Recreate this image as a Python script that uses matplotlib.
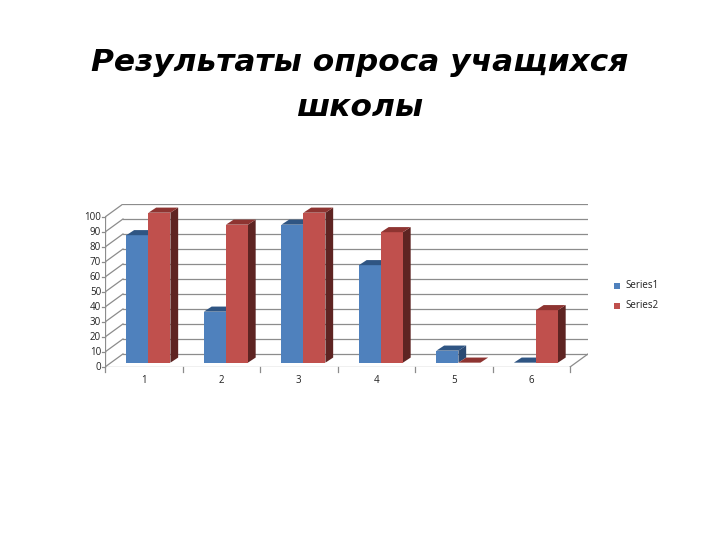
import matplotlib
matplotlib.use("Agg")
import matplotlib.pyplot as plt
from matplotlib.patches import Polygon

plt.rcParams['font.family'] = ['Open Sans', 'DejaVu Sans']

# data
categories = ['1', '2', '3', '4', '5', '6']
series1 = [85, 34, 92, 65, 8, 0]
series2 = [100, 92, 100, 87, 0, 35]
series_names = ['Series1', 'Series2']
yticks = list(range(0, 101, 10))
title_lines = ['Результаты опроса учащихся', 'школы']

front = ['#4F81BD', '#C0504D']
top = ['#2F5583', '#8E3431']
side = ['#2B4A73', '#5E2422']

# oblique "3d" geometry in data units
wall_dx, wall_dy = 0.232, 8.7      # back wall offset
bar_dx0, bar_dy0 = 0.06, 2.9       # bar front face offset
bar_dx, bar_dy = 0.10, 3.4         # bar depth
bar_w = 0.284
n = len(categories)

fig = plt.figure(figsize=(7.2, 5.4), dpi=100)
for j, line in enumerate(title_lines):
    fig.text(0.5, 1 - (71 + 45 * j) / 540, line, ha='center', va='baseline',
             fontsize=22.5, style='oblique', fontweight='bold', family='DejaVu Sans')

ax = fig.add_axes([105 / 720, 1 - 367 / 540, 483 / 720, 163 / 540])
ax.set_xlim(0.5, n + 0.5 + wall_dx)
ax.set_ylim(0, 100 + wall_dy)
ax.axis('off')

grid_c = '#8C8C8C'
x0, x1 = 0.5, n + 0.5
for v in yticks:
    ax.plot([x0 + wall_dx, x1 + wall_dx], [v + wall_dy, v + wall_dy], color=grid_c, lw=0.9, zorder=1)
    ax.plot([x0, x0 + wall_dx], [v, v + wall_dy], color=grid_c, lw=0.9, zorder=1)
    ax.plot([x0 - 0.04, x0], [v, v], color=grid_c, lw=0.9, clip_on=False)
    ax.text(x0 - 0.05, v, str(v), ha='right', va='center', fontsize=7, color='#222222')
# front axis lines
ax.plot([x0, x0], [0, 100], color=grid_c, lw=0.9, zorder=1)
ax.plot([x0, x1], [0, 0], color=grid_c, lw=0.9, zorder=1)
ax.plot([x1, x1 + wall_dx], [0, wall_dy], color=grid_c, lw=0.9, zorder=1)
for b in range(n + 1):
    ax.plot([x0 + b, x0 + b], [0, -3.5], color=grid_c, lw=0.9, clip_on=False)
for i, c in enumerate(categories):
    ax.text(i + 1, -9, c, ha='center', va='center', fontsize=7, color='#222222')

# bars
for i in range(n):
    for k, vals in enumerate([series1, series2]):
        v = vals[i]
        xl = i + 1 - bar_w + k * bar_w + bar_dx0
        xr = xl + bar_w
        base = bar_dy0
        tp = base + v
        z = 3 + i * 2 + k
        ax.add_patch(Polygon([(xr, base), (xr + bar_dx, base + bar_dy), (xr + bar_dx, tp + bar_dy), (xr, tp)],
                             closed=True, facecolor=side[k], edgecolor='none', zorder=z))
        ax.bar(xl, v, width=bar_w, bottom=base, align='edge', color=front[k], zorder=z)
        ax.add_patch(Polygon([(xl, tp), (xr, tp), (xr + bar_dx, tp + bar_dy), (xl + bar_dx, tp + bar_dy)],
                             closed=True, facecolor=top[k], edgecolor='none', zorder=z))

# legend
for k, name in enumerate(series_names):
    ly = 1 - (286 + 20 * k) / 540
    fig.patches.append(plt.Rectangle((614 / 720, ly - 3 / 540), 6 / 720, 6 / 540,
                                     transform=fig.transFigure, facecolor=front[k], edgecolor='none'))
    fig.text(625 / 720, ly, name, ha='left', va='center', fontsize=7, color='#222222')

fig.savefig('out.png', dpi=100)
